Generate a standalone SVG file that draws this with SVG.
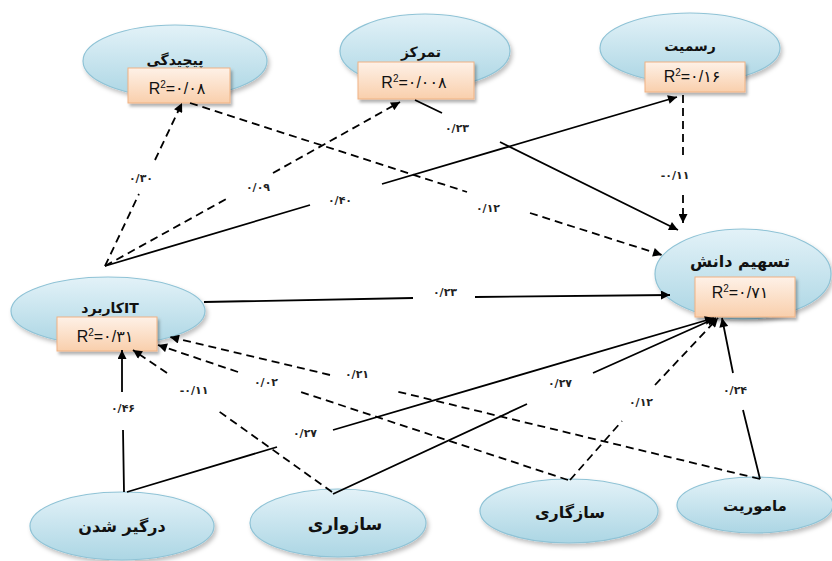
<svg xmlns="http://www.w3.org/2000/svg" width="832" height="561" viewBox="0 0 832 561">
<style>
.ell{fill:url(#gEll);stroke:#8fc3d6;stroke-width:1.2;filter:url(#sh)}
.box{fill:url(#gBox);stroke:#efb283;stroke-width:1;filter:url(#sh2)}
.t{font-family:"DejaVu Sans",sans-serif;font-weight:bold;fill:#111;text-anchor:middle}
.r2{font-family:"Liberation Sans","DejaVu Sans",sans-serif;font-size:16px;fill:#111;text-anchor:middle}
.sup{font-size:10px}
.lbl{font-family:"DejaVu Sans",sans-serif;font-weight:bold;font-size:11px;fill:#222;text-anchor:middle}
.s{fill:none;stroke:#000;stroke-width:1.8;marker-end:url(#ah)}
.d{fill:none;stroke:#000;stroke-width:1.8;stroke-dasharray:8 5;marker-end:url(#ah)}
</style>
<defs>
<linearGradient id="gEll" x1="0" y1="0" x2="0" y2="1">
<stop offset="0" stop-color="#e3f2f8"/><stop offset="1" stop-color="#acd6e4"/>
</linearGradient>
<linearGradient id="gBox" x1="0" y1="0" x2="0" y2="1">
<stop offset="0" stop-color="#fef1e7"/><stop offset="1" stop-color="#f9cfac"/>
</linearGradient>
<filter id="sh" x="-10%" y="-10%" width="125%" height="135%">
<feDropShadow dx="2" dy="3" stdDeviation="2" flood-color="#000" flood-opacity="0.25"/>
</filter>
<filter id="sh2" x="-10%" y="-10%" width="125%" height="140%">
<feDropShadow dx="2" dy="3" stdDeviation="1.5" flood-color="#000" flood-opacity="0.3"/>
</filter>
<marker id="ah" viewBox="0 0 10 10" refX="10" refY="5" markerWidth="11" markerHeight="9" markerUnits="userSpaceOnUse" orient="auto">
<path d="M0,0 L10,5 L0,10 z" fill="#000"/>
</marker>
</defs>
<rect width="832" height="561" fill="#fff"/>

<g id="n-pichidegi">
<ellipse class="ell" cx="175" cy="61" rx="92" ry="36"/>
<text class="t" x="175" y="65" font-size="14">پیچیدگی</text>
<rect class="box" x="128" y="68" width="102" height="35"/>
<text class="r2" x="177" y="94">R<tspan class="sup" dy="-6">2</tspan><tspan dy="6">=۰/۰۸</tspan></text>
</g>
<g id="n-tamarkoz">
<ellipse class="ell" cx="425" cy="51" rx="85" ry="37"/>
<text class="t" x="421" y="57" font-size="14">تمرکز</text>
<rect class="box" x="358" y="62" width="116" height="37"/>
<text class="r2" x="414" y="88">R<tspan class="sup" dy="-6">2</tspan><tspan dy="6">=۰/۰۰۸</tspan></text>
</g>
<g id="n-rasmiyat">
<ellipse class="ell" cx="690" cy="48" rx="90" ry="35"/>
<text class="t" x="690" y="51" font-size="14">رسمیت</text>
<rect class="box" x="645" y="62" width="100" height="30"/>
<text class="r2" x="692" y="82">R<tspan class="sup" dy="-6">2</tspan><tspan dy="6">=۰/۱۶</tspan></text>
</g>
<g id="n-tashim">
<ellipse class="ell" cx="743" cy="274" rx="88" ry="45"/>
<text class="t" x="740" y="267" font-size="16">تسهیم دانش</text>
<rect class="box" x="695" y="277" width="100" height="40"/>
<text class="r2" x="740" y="298">R<tspan class="sup" dy="-6">2</tspan><tspan dy="6">=۰/۷۱</tspan></text>
</g>
<g id="n-it">
<ellipse class="ell" cx="108" cy="311" rx="97" ry="34"/>
<text class="t" x="110" y="313" font-size="14">کاربردIT</text>
<rect class="box" x="57" y="317" width="100" height="34"/>
<text class="r2" x="105" y="342">R<tspan class="sup" dy="-6">2</tspan><tspan dy="6">=۰/۳۱</tspan></text>
</g>
<g id="n-dargir">
<ellipse class="ell" cx="122" cy="526" rx="92" ry="34"/>
<text class="t" x="122" y="532" font-size="16">درگیر شدن</text>
</g>
<g id="n-sazvari">
<ellipse class="ell" cx="338" cy="523" rx="88" ry="34"/>
<text class="t" x="345" y="530" font-size="17">سازواری</text>
</g>
<g id="n-sazgari">
<ellipse class="ell" cx="569" cy="511" rx="89" ry="32"/>
<text class="t" x="570" y="518" font-size="16">سازگاری</text>
</g>
<g id="n-mamoriyat">
<ellipse class="ell" cx="755" cy="505" rx="78" ry="28"/>
<text class="t" x="755" y="511" font-size="15">ماموریت</text>
</g>

<g id="connectors">
<path class="d" d="M105,266 L139,194 M155,160 L182,103"/>
<path class="d" d="M105,266 L228,198 M273,173 L400,102"/>
<path class="s" d="M105,266 L310,205 M382,184 L677,97"/>
<path class="d" d="M190,103 L467,192 M530,213 L662,255"/>
<path class="s" d="M415,100 L442,113 M500,142 L678,230"/>
<path class="d" d="M683,95 L683,160 M683,195 L683,223"/>
<path class="s" d="M204,302 L413,298 M475,297 L670,295"/>
<path class="s" d="M124,492 L123,430 M122,392 L122,350"/>
<path class="s" d="M127,492 L277,447 M333,430 L714,318"/>
<path class="d" d="M332,492 L217,410 M167,373 L133,350"/>
<path class="s" d="M333,494 L527,404 M593,373 L716,318"/>
<path class="d" d="M568,480 L298,391 M238,372 L158,345"/>
<path class="d" d="M760,479 L395,391 M330,375 L170,337"/>
<path class="d" d="M570,480 L622,421 M655,385 L718,318"/>
<path class="s" d="M760,479 L743,410 M733,373 L722,318"/>
<g id="labels">
<text class="lbl" x="141" y="182">۰/۳۰</text>
<text class="lbl" x="258" y="191">۰/۰۹</text>
<text class="lbl" x="340" y="204">۰/۴۰</text>
<text class="lbl" x="488" y="212">۰/۱۲</text>
<text class="lbl" x="457" y="132">۰/۲۳</text>
<text class="lbl" x="675" y="179">-۰/۱۱</text>
<text class="lbl" x="445" y="296">۰/۲۳</text>
<text class="lbl" x="123" y="412">۰/۴۶</text>
<text class="lbl" x="305" y="437">۰/۲۷</text>
<text class="lbl" x="194" y="394">-۰/۱۱</text>
<text class="lbl" x="560" y="387">۰/۲۷</text>
<text class="lbl" x="266" y="386">۰/۰۲</text>
<text class="lbl" x="357" y="378">۰/۲۱</text>
<text class="lbl" x="641" y="406">۰/۱۲</text>
<text class="lbl" x="735" y="394">۰/۲۴</text>
</g>
</g>
</svg>
